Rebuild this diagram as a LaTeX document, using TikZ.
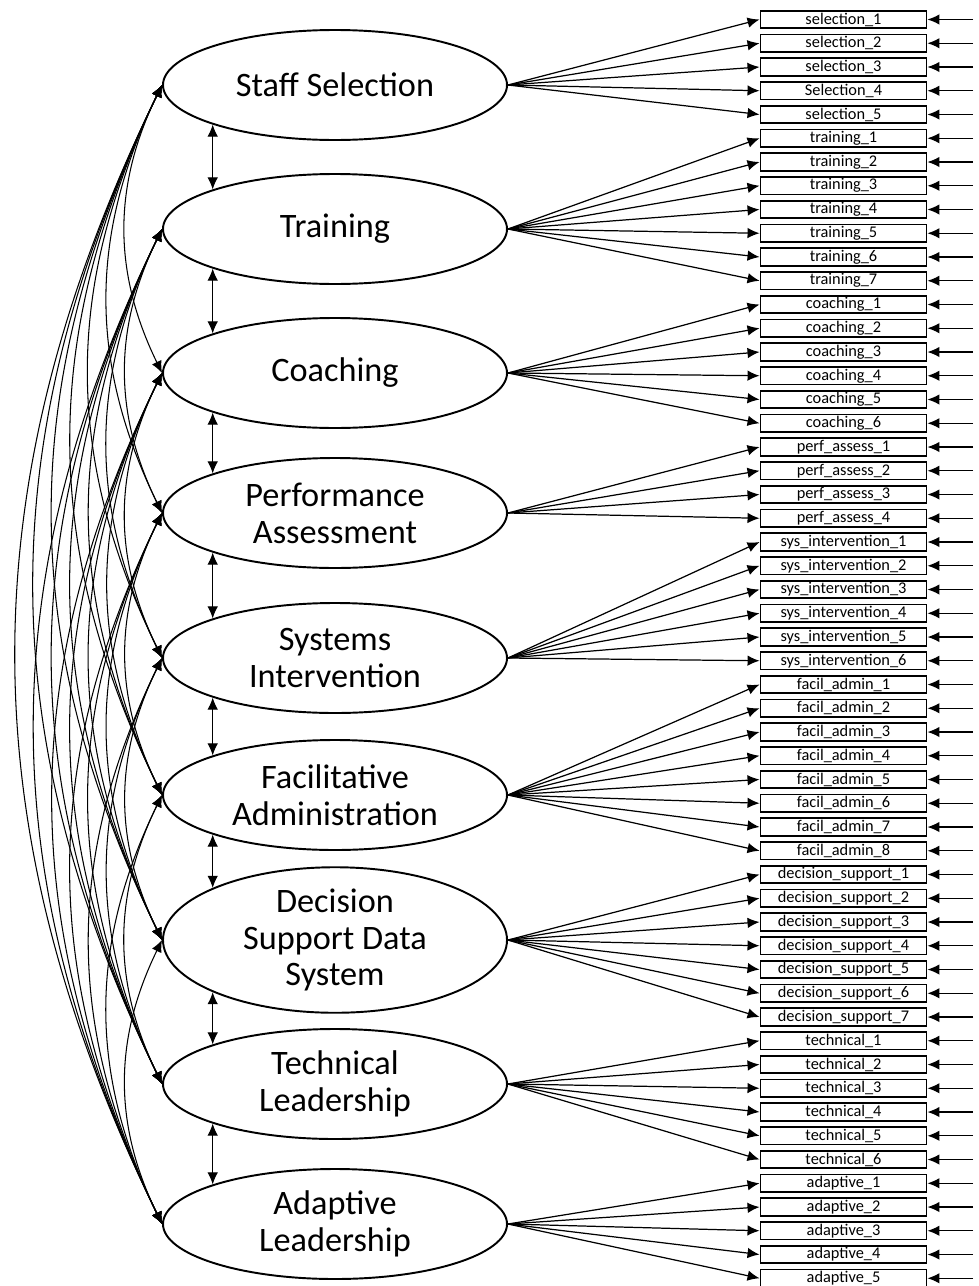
\documentclass[tikz,border=0pt]{standalone}
\usepackage{fontspec}
\setmainfont{Carlito}
\usetikzlibrary{shapes.geometric,arrows.meta}

\tikzset{
  factor/.style={draw,ellipse,line width=1.1pt,minimum width=68.8mm,minimum height=22mm,inner sep=0pt,align=center,font=\fontsize{19.5}{21}\selectfont},
  item/.style={draw,rectangle,line width=1.1pt,minimum width=33.2mm,minimum height=3.5mm,inner sep=0pt,font=\fontsize{9.3}{10}\selectfont},
  load/.style={-{Latex[length=2.4mm,width=2.1mm]},line width=0.7pt},
  cov/.style={{Latex[length=2.4mm,width=2.1mm]}-{Latex[length=2.4mm,width=2.1mm]},line width=0.6pt},
}

\begin{document}
\begin{tikzpicture}[x=0.2mm,y=-0.2mm]
\useasboundingbox (0,0) rectangle (978,1286);
%\draw[step=100,gray,very thin] (0,0) grid (978,1286);
\node[factor] (ss) at (335,85)   {Staff Selection};
\node[factor] (tr) at (335,229)  {Training};
\node[factor] (co) at (335,373)  {Coaching};
\node[factor] (pa) at (335,513)  {Performance\\Assessment};
\node[factor] (si) at (335,658)  {Systems\\Intervention};
\node[factor] (fa) at (335,795)  {Facilitative\\Administration};
\node[factor] (ds) at (335,940)  {Decision\\Support Data\\System};
\node[factor] (tl) at (335,1084) {Technical\\Leadership};
\node[factor] (al) at (335,1224) {Adaptive\\Leadership};

% observed items with their error arrows
\foreach \lbl [count=\k from 0] in {selection\_1,selection\_2,selection\_3,Selection\_4,selection\_5,
  training\_1,training\_2,training\_3,training\_4,training\_5,training\_6,training\_7,
  coaching\_1,coaching\_2,coaching\_3,coaching\_4,coaching\_5,coaching\_6,
  perf\_assess\_1,perf\_assess\_2,perf\_assess\_3,perf\_assess\_4,
  sys\_intervention\_1,sys\_intervention\_2,sys\_intervention\_3,sys\_intervention\_4,sys\_intervention\_5,sys\_intervention\_6,
  facil\_admin\_1,facil\_admin\_2,facil\_admin\_3,facil\_admin\_4,facil\_admin\_5,facil\_admin\_6,facil\_admin\_7,facil\_admin\_8,
  decision\_support\_1,decision\_support\_2,decision\_support\_3,decision\_support\_4,decision\_support\_5,decision\_support\_6,decision\_support\_7,
  technical\_1,technical\_2,technical\_3,technical\_4,technical\_5,technical\_6,
  adaptive\_1,adaptive\_2,adaptive\_3,adaptive\_4,adaptive\_5}
{
  \node[item] (i\k) at (843.5,{19.5+23.75*\k}) {\lbl};
  \coordinate (e\k) at (973,{19.5+23.75*\k});
  \draw[load] (e\k) -- (i\k.east);
}

% loadings
\foreach \f/\first/\last in {ss/0/4,tr/5/11,co/12/17,pa/18/21,si/22/27,fa/28/35,ds/36/42,tl/43/48,al/49/53}
  \foreach \k in {\first,...,\last}
    \draw[load] (\f.east) -- (i\k.west);

% covariances between neighbours
\draw[cov] (ss.south west) -- (tr.north west);
\draw[cov] (tr.south west) -- (co.north west);
\draw[cov] (co.south west) -- (pa.north west);
\draw[cov] (pa.south west) -- (si.north west);
\draw[cov] (si.south west) -- (fa.north west);
\draw[cov] (fa.south west) -- (ds.north west);
\draw[cov] (ds.south west) -- (tl.north west);
\draw[cov] (tl.south west) -- (al.north west);

% the other covariances
\foreach \a/\i in {ss/1,tr/2,co/3,pa/4,si/5,fa/6,ds/7}
  \foreach \b/\j in {co/3,pa/4,si/5,fa/6,ds/7,tl/8,al/9}
    {\ifnum\j>\numexpr\i+1\relax
       \draw[cov] (\a.west) to[bend right=26] (\b.west);
     \fi}
\end{tikzpicture}
\end{document}
